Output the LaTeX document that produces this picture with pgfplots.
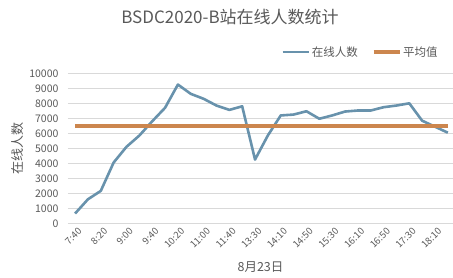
\documentclass[border=0pt]{standalone}
\usepackage{pgfplots}
\usepackage{pgfplotstable}
\pgfplotsset{compat=1.18}
\usepackage{fontspec}
\setmainfont{Noto Sans CJK SC}
\definecolor{linec}{RGB}{104,146,172}
\definecolor{avgc}{RGB}{204,134,78}
\definecolor{txt}{RGB}{89,89,89}
\definecolor{gridc}{RGB}{217,217,217}
\pgfplotstableread{
idx val avg
0 650 6496
1 1600 6496
2 2160 6496
3 4050 6496
4 5100 6496
5 5850 6496
6 6800 6496
7 7700 6496
8 9250 6496
9 8630 6496
10 8300 6496
11 7850 6496
12 7560 6496
13 7800 6496
14 4250 6496
15 5860 6496
16 7190 6496
17 7250 6496
18 7470 6496
19 6970 6496
20 7190 6496
21 7450 6496
22 7520 6496
23 7520 6496
24 7740 6496
25 7850 6496
26 8000 6496
27 6840 6496
28 6440 6496
29 6040 6496
}\datatab
\begin{document}
\begin{tikzpicture}
\useasboundingbox (0pt,0pt) rectangle (453pt,277pt);
\begin{axis}[
  at={(68pt,53.7pt)}, anchor=south west,
  scale only axis, width=385pt, height=150pt,
  xmin=-0.55, xmax=29.4, ymin=0, ymax=10000,
  axis line style={draw=none},
  major tick length=0pt,
  ytick={0,1000,...,10000},
  ymajorgrids, grid style={gridc, line width=0.8pt},
  scaled y ticks=false,
  /pgf/number format/1000 sep={},
  /pgf/number format/assume math mode=true,
  yticklabel style={font=\fontsize{10.5}{12}\selectfont, color=txt, xshift=-6pt},
  xtick={0,2,...,28},
  xticklabels={7:40,8:20,9:00,9:40,10:20,11:00,11:40,13:30,14:10,14:50,15:30,16:10,16:50,17:30,18:10},
  xticklabel style={rotate=45, anchor=east, font=\fontsize{9.5}{11}\selectfont, color=txt, yshift=-8pt, inner sep=1pt},
  xlabel={8月23日},
  xlabel style={at={(axis description cs:0.5,-0.29)}, anchor=center, font=\fontsize{12.5}{14}\selectfont, color=txt},
  ylabel={在线人数},
  ylabel style={at={(axis description cs:-0.13,0.5)}, anchor=center, font=\fontsize{13}{15}\selectfont, color=txt},
  legend columns=2,
  legend style={at={(axis description cs:0.966,1.142)}, anchor=east, draw=none, fill=none,
    font=\fontsize{11.5}{13}\selectfont, text=txt, inner sep=0pt,
    /tikz/every even column/.append style={column sep=12pt}},
  legend image code/.code={\draw[#1] (0pt,0pt) -- (26pt,0pt);},
  clip=false,
]
\addplot[linec, line width=2.6pt, line join=round] table[x=idx, y=val] {\datatab};
\addlegendentry{在线人数}
\addplot[avgc, line width=3.3pt] table[x=idx, y=avg] {\datatab};
\addlegendentry{平均值}
\end{axis}
\node[font=\fontsize{17}{20}\selectfont, color=txt] at (230pt,260pt) {BSDC2020-B站在线人数统计};
\end{tikzpicture}
\end{document}
